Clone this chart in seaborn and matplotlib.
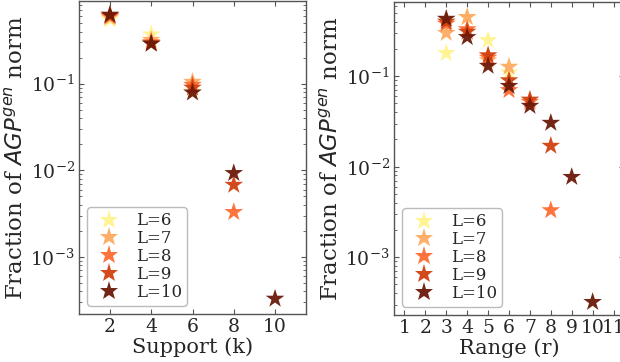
import numpy as np
import pandas as pd
import matplotlib
matplotlib.use("Agg")
import matplotlib.pyplot as plt
import seaborn as sns

# ---- data ----
L_values = [6, 7, 8, 9, 10]
labels = ["L=6", "L=7", "L=8", "L=9", "L=10"]
colors = ["#fff38e", "#fdab62", "#fd6c31", "#d1410f", "#6b1a09"]

support_k = {
    6: [2, 4, 6],
    7: [2, 4, 6],
    8: [2, 4, 6, 8],
    9: [2, 4, 6, 8],
    10: [2, 4, 6, 8, 10],
}
support_frac = {
    6: [0.55, 0.37, 0.08],
    7: [0.58, 0.32, 0.105],
    8: [0.60, 0.30, 0.097, 0.0033],
    9: [0.61, 0.29, 0.090, 0.0068],
    10: [0.625, 0.29, 0.079, 0.0093, 0.00033],
}
range_r = {
    6: [3, 4, 5, 6],
    7: [3, 4, 5, 6],
    8: [3, 4, 5, 6, 7, 8],
    9: [3, 4, 5, 6, 7, 8],
    10: [3, 4, 5, 6, 7, 8, 9, 10],
}
range_frac = {
    6: [0.18, 0.45, 0.25, 0.11],
    7: [0.30, 0.45, 0.15, 0.127],
    8: [0.38, 0.33, 0.16, 0.070, 0.052, 0.0033],
    9: [0.40, 0.31, 0.17, 0.090, 0.055, 0.017],
    10: [0.43, 0.27, 0.13, 0.078, 0.047, 0.0305, 0.0077, 0.00032],
}

rows_s = []
rows_r = []
for L, lab in zip(L_values, labels):
    for k, f in zip(support_k[L], support_frac[L]):
        rows_s.append({"x": k, "y": f, "L": lab})
    for r, f in zip(range_r[L], range_frac[L]):
        rows_r.append({"x": r, "y": f, "L": lab})
df_s = pd.DataFrame(rows_s)
df_r = pd.DataFrame(rows_r)

sns.set_style("ticks")
plt.rcParams["font.family"] = ["DejaVu Serif"]
plt.rcParams["mathtext.fontset"] = "dejavusans"

fig = plt.figure(figsize=(6.2, 3.62), dpi=100)
ax1 = fig.add_axes([79 / 620, 48 / 362, 227 / 620, 313 / 362])
ax2 = fig.add_axes([394 / 620, 47 / 362, 230 / 620, 313 / 362])

palette = dict(zip(labels, colors))

for ax, df, xlab, ylim, xticks in [
    (ax1, df_s, "Support (k)", (2.2e-4, 0.9), [2, 4, 6, 8, 10]),
    (ax2, df_r, "Range (r)", (2.3e-4, 0.66), list(range(1, 12))),
]:
    sns.scatterplot(data=df, x="x", y="y", hue="L", hue_order=labels,
                    palette=palette, marker="*", s=200, linewidth=0,
                    alpha=0.95, ax=ax)
    ax.set_yscale("log")
    ax.set_ylim(*ylim)
    ax.set_xlim(0.5, 11.5)
    ax.set_xticks(xticks)
    ax.set_xlabel(xlab, fontsize=15, labelpad=1)
    ax.set_ylabel(r"Fraction of $AGP^{gen}$ norm", fontsize=16.5, labelpad=2)
    ax.tick_params(which="both", direction="in", top=True, right=True,
                   labelsize=13.5, color="#555555", pad=3)
    ax.tick_params(which="major", length=3.5)
    ax.tick_params(which="minor", length=2)
    for sp in ax.spines.values():
        sp.set_color("#555555")
        sp.set_linewidth(1.0)
    leg = ax.legend(loc="lower left", fontsize=12, frameon=True,
                    handletextpad=0.6, borderpad=0.3, labelspacing=0.05,
                    markerscale=1.0)
    leg.get_frame().set_edgecolor("#aaaaaa")
    for h in leg.legend_handles:
        h.set_alpha(0.95)

fig.savefig("out.png", dpi=100)
